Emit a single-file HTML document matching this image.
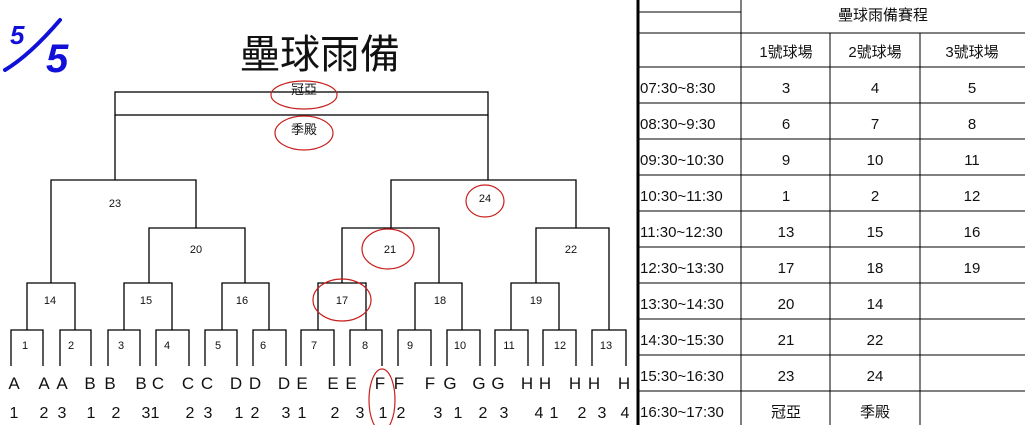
<!DOCTYPE html>
<html><head><meta charset="utf-8"><style>
html,body{margin:0;padding:0;background:#fff;}
svg{display:block;}
text{font-family:"Liberation Sans","Noto Sans CJK TC",sans-serif;}
</style></head><body>
<svg width="1025" height="425" viewBox="0 0 1025 425" xmlns="http://www.w3.org/2000/svg">
<rect width="1025" height="425" fill="#fff"/>
<!-- 5/5 -->
<g fill="#1010d8" font-style="italic" font-weight="bold">
<text x="10" y="44" font-size="26">5</text>
<text x="46" y="72" font-size="40">5</text>
</g>
<path d="M5 70 Q30 55 60 20" stroke="#1010d8" stroke-width="4" fill="none" stroke-linecap="round"/>
<!-- title -->
<text x="320" y="68" font-size="40" text-anchor="middle" font-family="'Liberation Sans','Noto Sans CJK TC',sans-serif" fill="#111">壘球雨備</text>
<g stroke="#000" stroke-width="1.3" fill="none">
<!-- top -->
<rect x="115" y="92" width="373" height="23"/>
<path d="M115 115V180M488 115V180"/>
<!-- 23 -->
<path d="M51 283V180H196V228"/>
<path d="M149 283V228H245V283"/>
<!-- 24 -->
<path d="M391 228V180H576V228"/>
<path d="M342 283V228H439V283"/>
<path d="M536 283V228H609V330"/>
<!-- round 2 -->
<path d="M27 330V283H75V330"/>
<path d="M124 330V283H172V330"/>
<path d="M222 330V283H269V330"/>
<path d="M318 330V283H366V330"/>
<path d="M415 330V283H462V330"/>
<path d="M511 330V283H559V330"/>
<!-- leaves -->
<path d="M11 366V330H43V366"/>
<path d="M60 366V330H91V366"/>
<path d="M108 366V330H140V366"/>
<path d="M156 366V330H189V366"/>
<path d="M205 366V330H237V366"/>
<path d="M253 366V330H286V366"/>
<path d="M301 366V330H334V366"/>
<path d="M350 366V330H382V366"/>
<path d="M398 366V330H431V366"/>
<path d="M447 366V330H480V366"/>
<path d="M495 366V330H528V366"/>
<path d="M543 366V330H576V366"/>
<path d="M592 366V330H626V366"/>
</g>
<g font-size="11" text-anchor="middle" fill="#111">
<text x="304" y="94" font-size="13">冠亞</text>
<text x="304" y="134" font-size="13">季殿</text>
<text x="115" y="207">23</text>
<text x="485" y="202">24</text>
<text x="196" y="253">20</text>
<text x="390" y="253">21</text>
<text x="571" y="253">22</text>
<text x="50" y="304">14</text>
<text x="146" y="304">15</text>
<text x="242" y="304">16</text>
<text x="342" y="304">17</text>
<text x="440" y="304">18</text>
<text x="536" y="304">19</text>
<text x="25" y="349">1</text><text x="71" y="349">2</text>
<text x="121" y="349">3</text><text x="167" y="349">4</text>
<text x="218" y="349">5</text><text x="263" y="349">6</text>
<text x="314" y="349">7</text><text x="365" y="349">8</text>
<text x="410" y="349">9</text><text x="460" y="349">10</text>
<text x="509" y="349">11</text><text x="560" y="349">12</text>
<text x="606" y="349">13</text>
</g>
<g font-size="17" fill="#111" text-anchor="middle">
<text x="14" y="389">A</text><text x="44" y="389">A</text>
<text x="62" y="389">A</text><text x="90" y="389">B</text>
<text x="110" y="389">B</text><text x="141" y="389">B</text>
<text x="158" y="389">C</text><text x="188" y="389">C</text>
<text x="207" y="389">C</text><text x="236" y="389">D</text>
<text x="255" y="389">D</text><text x="284" y="389">D</text>
<text x="302" y="389">E</text><text x="333" y="389">E</text>
<text x="351" y="389">E</text><text x="380" y="389">F</text>
<text x="399" y="389">F</text><text x="430" y="389">F</text>
<text x="450" y="389">G</text><text x="479" y="389">G</text>
<text x="498" y="389">G</text><text x="527" y="389">H</text>
<text x="545" y="389">H</text><text x="575" y="389">H</text>
<text x="594" y="389">H</text><text x="624" y="389">H</text>
</g>
<g font-size="16" fill="#111" text-anchor="middle">
<text x="14" y="418">1</text><text x="44" y="418">2</text>
<text x="62" y="418">3</text><text x="91" y="418">1</text>
<text x="116" y="418">2</text><text x="146" y="418">3</text>
<text x="155" y="418">1</text><text x="190" y="418">2</text>
<text x="208" y="418">3</text><text x="239" y="418">1</text>
<text x="255" y="418">2</text><text x="286" y="418">3</text>
<text x="302" y="418">1</text><text x="335" y="418">2</text>
<text x="360" y="418">3</text><text x="383" y="418">1</text>
<text x="401" y="418">2</text><text x="438" y="418">3</text>
<text x="458" y="418">1</text><text x="483" y="418">2</text>
<text x="504" y="418">3</text><text x="539" y="418">4</text>
<text x="554" y="418">1</text><text x="582" y="418">2</text>
<text x="602" y="418">3</text><text x="625" y="418">4</text>
</g>
<!-- red ellipses -->
<g stroke="#c8201e" stroke-width="1.2" fill="none">
<ellipse cx="304" cy="95" rx="33" ry="14"/>
<ellipse cx="304" cy="133" rx="29" ry="17"/>
<ellipse cx="485" cy="201" rx="19" ry="16"/>
<ellipse cx="388" cy="249" rx="26" ry="20"/>
<ellipse cx="342" cy="300" rx="29" ry="21"/>
<ellipse cx="382" cy="400" rx="13" ry="31"/>
</g>
<!-- table -->
<g stroke="#000" stroke-width="1" fill="none">
<path d="M638 0V425" stroke-width="3"/>
<path d="M741 0V425M830 33V425M920 33V425"/>
<path d="M638 12H741"/>
<path d="M638 33H1025"/>
<path d="M638 67H1025M638 103H1025M638 139H1025M638 175H1025M638 211H1025M638 247H1025M638 283H1025M638 319H1025M638 355H1025M638 391H1025"/>
</g>
<g font-size="15" fill="#111" font-family="'Liberation Sans','Noto Sans CJK TC',sans-serif">
<text x="883" y="20" text-anchor="middle">壘球雨備賽程</text>
<g text-anchor="middle">
<text x="786" y="57">1號球場</text><text x="875" y="57">2號球場</text><text x="972" y="57">3號球場</text>
<text x="786" y="93">3</text><text x="875" y="93">4</text><text x="972" y="93">5</text>
<text x="786" y="129">6</text><text x="875" y="129">7</text><text x="972" y="129">8</text>
<text x="786" y="165">9</text><text x="875" y="165">10</text><text x="972" y="165">11</text>
<text x="786" y="201">1</text><text x="875" y="201">2</text><text x="972" y="201">12</text>
<text x="786" y="237">13</text><text x="875" y="237">15</text><text x="972" y="237">16</text>
<text x="786" y="273">17</text><text x="875" y="273">18</text><text x="972" y="273">19</text>
<text x="786" y="309">20</text><text x="875" y="309">14</text>
<text x="786" y="345">21</text><text x="875" y="345">22</text>
<text x="786" y="381">23</text><text x="875" y="381">24</text>
<text x="786" y="417">冠亞</text><text x="875" y="417">季殿</text>
</g>
<text x="640" y="93">07:30~8:30</text>
<text x="640" y="129">08:30~9:30</text>
<text x="640" y="165">09:30~10:30</text>
<text x="640" y="201">10:30~11:30</text>
<text x="640" y="237">11:30~12:30</text>
<text x="640" y="273">12:30~13:30</text>
<text x="640" y="309">13:30~14:30</text>
<text x="640" y="345">14:30~15:30</text>
<text x="640" y="381">15:30~16:30</text>
<text x="640" y="417">16:30~17:30</text>
</g>
</svg>
</body></html>
